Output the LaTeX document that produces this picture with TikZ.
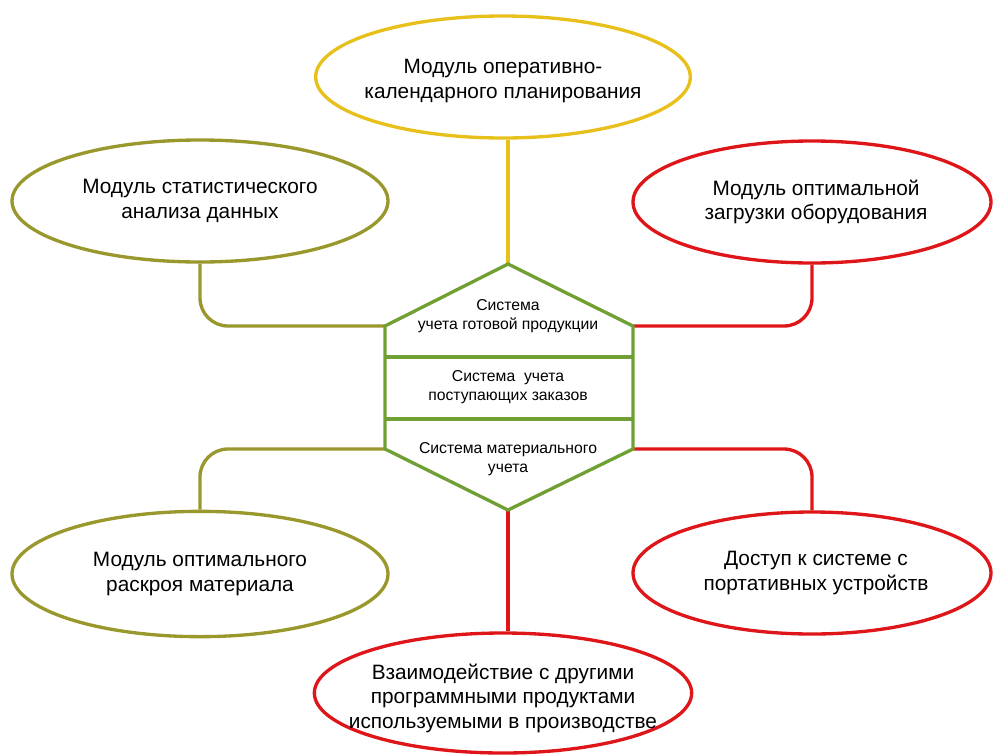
\documentclass[tikz,border=0pt]{standalone}
\usepackage{fontspec}
\setmainfont{Liberation Sans}
\usetikzlibrary{positioning}
\usetikzlibrary{calc}
\usetikzlibrary{shapes.geometric}
\definecolor{modyellow}{RGB}{232,192,28}
\definecolor{modolive}{RGB}{152,152,44}
\definecolor{modred}{RGB}{222,22,26}
\definecolor{hexgreen}{RGB}{112,160,52}

\begin{document}
\begin{tikzpicture}[
			x=0.75pt, y=-0.75pt,
			module/.style={ellipse, minimum width=282pt, minimum height=91.5pt, inner sep=0pt, line width=2.5pt},
			modtext/.style={align=center, inner sep=0pt, font=\fontsize{15.6}{18.3}\selectfont},
			subsys/.style={align=center, inner sep=0pt, font=\fontsize{11.8}{14.2}\selectfont},
			link/.style={line width=2.5pt, rounded corners=21pt},
			hexline/.style={draw=hexgreen, line width=2.5pt, line join=miter},
			]
			\useasboundingbox (0,0) rectangle (993,754);
			
			% modules round the hexagon
			\node[module, draw=modyellow, minimum width=281pt]        (m_1) [label={[modtext, yshift=-3pt]center:Модуль оперативно-\\календарного планирования}]        at (503,77)  {};
			\node[module, draw=modolive]                              (m_2) [label={[modtext]center:Модуль статистического\\анализа данных}]                          at (200,201) {};
			\node[module, draw=modred, minimum width=268.5pt]         (m_3) [label={[modtext, xshift=3pt]center:Модуль оптимальной\\загрузки оборудования}]           at (812,202) {};
			\node[module, draw=modolive, minimum height=94pt]         (m_4) [label={[modtext]center:Модуль оптимального\\раскроя материала}]                         at (200,574) {};
			\node[module, draw=modred, minimum width=268.5pt]         (m_5) [label={[modtext, xshift=3pt]center:Доступ к системе с\\портативных устройств}]           at (812,573) {};
			\node[module, draw=modred, minimum width=283pt, minimum height=90pt] (m_6) [label={[modtext, yshift=-4pt]center:Взаимодействие с другими\\программными продуктами\\используемыми в производстве}] at (503,693) {};
			
			% hexagon corners
			\coordinate (h_t)  at (508,264);
			\coordinate (h_lt) at (385,326);
			\coordinate (h_rt) at (633,326);
			\coordinate (h_lb) at (385,449);
			\coordinate (h_rb) at (633,449);
			\coordinate (h_b)  at (508,510);
			\coordinate (d_1l) at (385,357);
			\coordinate (d_1r) at (633,357);
			\coordinate (d_2l) at (385,419);
			\coordinate (d_2r) at (633,419);
			
			\draw [link, draw=modyellow] (h_t)      -- (h_t |- m_1.south);
			\draw [link, draw=modolive]  (m_2.south) |- (h_lt);
			\draw [link, draw=modred]    (m_3.south) |- (h_rt);
			\draw [link, draw=modolive]  (h_lb)      -| (m_4.north);
			\draw [link, draw=modred]    (h_rb)      -| (m_5.north);
			\draw [link, draw=modred]    (h_b)       -- (h_b |- m_6.north);
			
			\draw [hexline] (h_t) -- (h_rt) -- (h_rb) -- (h_b) -- (h_lb) -- (h_lt) -- cycle;
			\draw [hexline] (d_1l) -- (d_1r);
			\draw [hexline] (d_2l) -- (d_2r);
			
			\node[subsys] (s_1) at (508,316) {Система\\учета готовой продукции};
			\node[subsys] (s_2) at (508,387) {Система~~учета\\поступающих заказов};
			\node[subsys] (s_3) at (508,459) {Система материального\\учета};
			
\end{tikzpicture}
\end{document}
